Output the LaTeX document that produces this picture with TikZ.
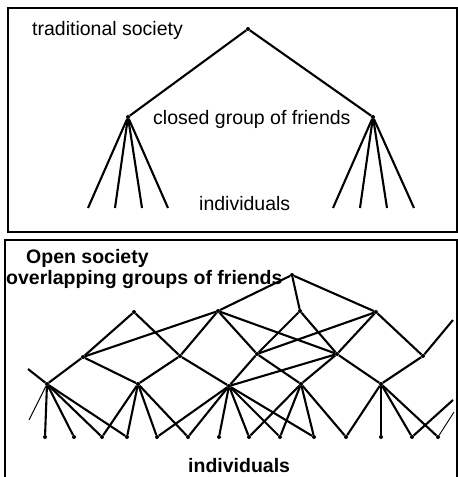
\documentclass[tikz,border=0pt]{standalone}
\usepackage{fontspec}
\setmainfont{Liberation Sans}
\usepackage{tikz}
\tikzset{
dot/.style={circle,fill=black,inner sep=0cm,minimum size=4pt},
line/.style={black,line width=2.1pt},
thinline/.style={black,line width=0.9pt},
frame/.style={black,line width=1.4pt},
label-text/.style={inner sep=0pt,anchor=base west,font=\fontsize{19.5}{23}\selectfont},
label-bold/.style={label-text,font=\fontsize{19.5}{23}\selectfont\bfseries}
}
\begin{document}
\begin{tikzpicture}[x=1pt,y=-1pt]
    \useasboundingbox (0,0) rectangle (458,477);
    % traditional society
    {
      \draw[frame] (8,8) rectangle (457,232);
      \node[dot](t0) at (248,29) {};
      \node[dot](t1) at (128,117) {};
      \node[dot](t2) at (373,117) {};
      \foreach \n/\x in {1/88,2/115,3/142,4/168}
        \coordinate (ta\n) at (\x,208);
      \foreach \n/\x in {1/333,2/360,3/387,4/414}
        \coordinate (tb\n) at (\x,208);
      %
      \foreach \u / \v in {t0/t1,t0/t2,t1/ta1,t1/ta2,t1/ta3,t1/ta4,t2/tb1,t2/tb2,t2/tb3,t2/tb4}
      \draw[line] (\u) -- (\v);
      %
      \node[label-text](trad) at (32,35.5) {traditional society};
      \node[label-text](closed) at (153,124) {closed group of friends};
      \node[label-text](indiv-t) at (199,210.5) {individuals};
    }
    % open society
    {
      \draw[frame] (5,477) -- (5,240) -- (457,240) -- (457,477);
      \node[dot](a) at (292,275) {};
      \node[dot](b1) at (134,312) {};
      \node[dot](b2) at (218,311) {};
      \node[dot](b3) at (300,311) {};
      \node[dot](b4) at (376,312) {};
      \node[dot](c1) at (83,357) {};
      \node[dot](c2) at (180,356) {};
      \node[dot](c3) at (257,354) {};
      \node[dot](c4) at (337,354) {};
      \node[dot](c5) at (423,356) {};
      \node[dot](d1) at (47,384) {};
      \node[dot](d2) at (138,384) {};
      \node[dot](d3) at (229,386) {};
      \node[dot](d4) at (301,384) {};
      \node[dot](d5) at (381,384) {};
      \foreach \n/\x in {1/45,2/74,3/102,4/127,5/157,6/188,7/219,8/249,9/280,10/314,11/346,12/381,13/412,14/438}
        \node[dot](p\n) at (\x,437) {};
      \coordinate (e1) at (28,369);
      \coordinate (e2) at (29,420);
      \coordinate (e3) at (453,320);
      \coordinate (e4) at (453,400);
      \coordinate (e5) at (454,412);
      %
      \foreach \u / \v in {a/b2,a/b3,a/b4,b1/c1,b1/c2,b2/c1,b2/c2,b2/c3,b2/c4,b3/c3,b3/c4,b4/c3,b4/c4,b4/c5,
        c1/d1,c1/d2,c2/d2,c2/d3,c3/d3,c3/d4,c4/d3,c4/d4,c4/d5,c5/d5,c5/e3,
        d1/e1,d1/p1,d1/p2,d1/p3,d1/p4,d2/p3,d2/p4,d2/p5,d2/p6,
        d3/p5,d3/p6,d3/p7,d3/p8,d3/p9,d3/p10,d4/p8,d4/p9,d4/p10,d4/p11,
        d5/p11,d5/p12,d5/p13,d5/p14,p13/e4}
      \draw[line] (\u) -- (\v);
      \draw[thinline] (d1) -- (e2);
      \draw[thinline] (p14) -- (e5);
      %
      \node[label-bold](open) at (26,263) {Open society};
      \node[label-bold](overlap) at (6,284) {overlapping groups of friends};
      \node[label-bold](indiv-b) at (188,472) {individuals};
    }
\end{tikzpicture}
\end{document}
